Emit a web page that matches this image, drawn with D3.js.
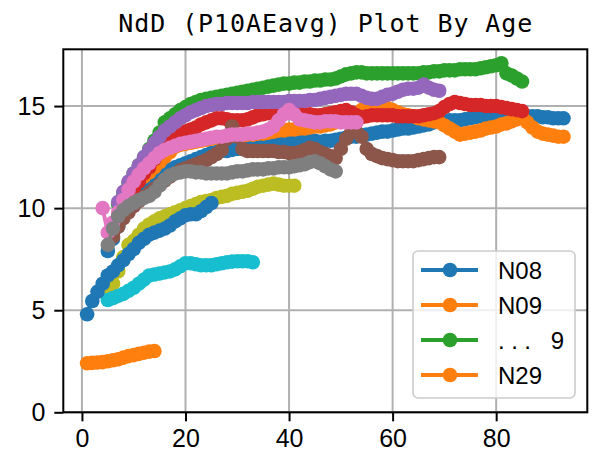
<!DOCTYPE html>
<html>
<head>
<meta charset="utf-8">
<script src="https://cdn.jsdelivr.net/npm/d3@7"></script>
<style>
  html, body { margin: 0; padding: 0; background: #fff; }
  svg { display: block; }
</style>
</head>
<body>
<svg id="chart" width="596" height="454"></svg>
<script>
// ---- data: NdD value by age, one point per year of age ----
const seriesNames = ["N08", "N09", "S10", "S11", "S12", "S13", "S14", "S15", "S16", "S17", "S18", "N29"];
const startAges   = [5, 8, 7, 6, 7, 6, 4, 5, 5, 5, 1, 1];

const n08 = [7.9, 8.5, 9.1, 9.6, 10.0, 10.3, 10.6, 10.9, 11.1, 11.3, 11.5, 11.7, 11.9, 12.0, 12.1, 12.2,
  12.3, 12.4, 12.5, 12.6, 12.7, 12.75, 12.8, 12.8, 12.85, 12.9, 12.9, 12.95, 12.95, 13.0, 13.0, 13.05,
  13.1, 13.2, 13.25, 13.3, 13.3, 13.35, 13.3, 13.3, 13.3, 13.25, 13.3, 13.3, 13.35, 13.4, 13.45, 13.5,
  13.5, 13.55, 13.6, 13.65, 13.7, 13.75, 13.75, 13.8, 13.85, 13.9, 13.9, 13.95, 14.0, 14.05, 14.1, 14.2,
  14.25, 14.25, 14.3, 14.3, 14.3, 14.35, 14.4, 14.45, 14.5, 14.5, 14.55, 14.55, 14.6, 14.6, 14.6, 14.55,
  14.55, 14.5, 14.5, 14.5, 14.45, 14.45, 14.4, 14.4, 14.4];
const n09 = [10.4, 10.8, 11.1, 11.35, 11.55, 11.75, 12.0, 12.25, 12.5, 12.75, 13.0, 13.1, 13.15, 13.2, 13.25,
  13.3, 13.35, 13.4, 13.45, 13.45, 13.5, 13.55, 13.55, 13.55, 13.6, 13.6, 13.65, 13.65, 13.7, 13.75, 13.8,
  13.8, 13.85, 13.85, 13.9, 13.9, 13.95, 14.0, 14.0, 14.05, 14.1, 14.2, 14.3,
  14.4, 14.5, 14.65, 14.8, 14.9, 14.95, 15.0, 15.0, 14.9, 14.8, 14.7, 14.6, 14.55, 14.5, 14.4, 14.35,
  14.3, 14.25, 14.2, 14.05, 13.9, 13.75, 13.6, 13.65, 13.7, 13.75, 13.8, 13.9, 13.95, 14.0, 14.1, 14.15,
  14.25, 14.35, 14.5, 14.2, 13.95, 13.75, 13.65, 13.6, 13.55, 13.5, 13.5];
const s10 = [10.2, 10.7, 11.2, 11.7, 12.1, 12.5, 12.9, 13.3, 13.7, 14.2, 14.4, 14.6, 14.8, 14.95, 15.1,
  15.2, 15.3, 15.35, 15.4, 15.45, 15.5, 15.55, 15.6, 15.65, 15.7, 15.75, 15.8, 15.85, 15.9, 15.95, 16.0,
  16.05, 16.1, 16.1, 16.15, 16.15, 16.2, 16.2, 16.25, 16.25, 16.3, 16.3, 16.35, 16.45, 16.55, 16.6, 16.65,
  16.65, 16.6, 16.6, 16.6, 16.6, 16.6, 16.6, 16.6, 16.6, 16.6, 16.6, 16.6, 16.65, 16.65, 16.7, 16.7,
  16.75, 16.75, 16.75, 16.8, 16.8, 16.8, 16.8, 16.85, 16.9, 16.95, 17.0, 17.1, 16.6, 16.5, 16.35, 16.2];
const s11 = [8.8, 9.5, 10.0, 10.5, 10.9, 11.3, 11.7, 12.0, 12.4, 12.7, 13.0, 13.2, 13.4, 13.6, 13.75,
  13.85, 13.95, 14.1, 14.2, 14.3, 14.4, 14.4, 14.35, 14.3, 14.3, 14.3, 14.35, 14.45, 14.55, 14.6, 14.65,
  14.7, 14.75, 14.8, 14.8, 14.75, 14.65, 14.6, 14.6, 14.55, 14.55, 14.6, 14.65, 14.7, 14.75, 14.8, 14.7,
  14.55, 14.45, 14.5, 14.55, 14.55, 14.55, 14.55, 14.55, 14.5, 14.5, 14.5, 14.5, 14.5, 14.55, 14.6,
  14.65, 14.75, 14.95, 15.1, 15.2, 15.15, 15.1, 15.05, 15.05, 15.05, 15.0, 15.0, 15.0, 14.95, 14.9,
  14.85, 14.8, 14.75];
const s12 = [10.3, 10.8, 11.3, 11.7, 12.1, 12.5, 12.85, 13.2, 13.5, 13.8, 14.0, 14.2, 14.4, 14.55, 14.7,
  14.8, 14.9, 15.0, 15.05, 15.1, 15.1, 15.15, 15.15, 15.15, 15.15, 15.15, 15.2, 15.2, 15.2, 15.2, 15.2,
  15.2, 15.2, 15.25, 15.25, 15.25, 15.25, 15.3, 15.3, 15.35, 15.4, 15.45, 15.5, 15.55, 15.6, 15.6, 15.6,
  15.5, 15.4, 15.35, 15.35, 15.45, 15.55, 15.6, 15.7, 15.8, 15.85, 15.85, 15.9, 16.05, 15.9, 15.8, 15.75];
const s13 = [8.6, 9.1, 9.5, 9.8, 10.1, 10.35, 10.55, 10.75, 10.95, 11.15, 11.35, 11.55, 11.7, 11.85, 11.95,
  12.05, 12.15, 12.25, 12.35, 12.5, 12.65, 12.85, 13.4, 14.0, 13.5, 12.9, 12.8, 12.8, 12.8, 12.8, 12.8,
  12.8, 12.75, 12.75, 12.7, 12.7, 12.75, 12.85, 12.95, 12.9, 12.75, 12.65, 12.55, 12.45, 12.9, 13.4, 13.7,
  13.75, 13.5, 12.9, 12.65, 12.55, 12.45, 12.4, 12.35, 12.3, 12.3, 12.3, 12.3, 12.35, 12.4, 12.45, 12.5, 12.5];
const s14 = [10.0, 8.8, 9.3, 9.8, 10.4, 10.9, 11.3, 11.65, 11.95, 12.2, 12.45, 12.7, 12.85, 12.95, 13.05,
  13.15, 13.2, 13.25, 13.3, 13.35, 13.4, 13.45, 13.5, 13.5, 13.55, 13.6, 13.6, 13.6, 13.65, 13.65, 13.7,
  13.75, 13.85, 14.0, 14.3, 14.6, 14.8, 14.6, 14.35, 14.3, 14.25, 14.2, 14.2, 14.25, 14.25, 14.25, 14.2,
  14.2, 14.2, 14.2];
const s15 = [8.2, 9.0, 9.6, 9.9, 10.1, 10.25, 10.4, 10.5, 10.6, 10.8, 11.1, 11.4, 11.6, 11.7, 11.75, 11.8,
  11.8, 11.75, 11.75, 11.7, 11.7, 11.7, 11.7, 11.7, 11.75, 11.8, 11.8, 11.85, 11.9, 11.9, 11.9, 11.95,
  11.95, 12.0, 12.0, 12.0, 12.05, 12.1, 12.15, 12.25, 12.3, 12.2, 12.05, 11.9, 11.8];
const s16 = [5.8, 6.3, 6.9, 7.6, 8.2, 8.4, 8.7, 9.0, 9.2, 9.35, 9.5, 9.6, 9.7, 9.8, 9.9, 10.0, 10.1, 10.2,
  10.3, 10.35, 10.4, 10.5, 10.55, 10.6, 10.7, 10.75, 10.8, 10.85, 10.95, 11.05, 11.1, 11.15, 11.2, 11.15,
  11.1, 11.1, 11.1];
const s17 = [5.5, 5.6, 5.7, 5.8, 5.95, 6.1, 6.3, 6.5, 6.7, 6.75, 6.8, 6.85, 6.9, 7.0, 7.15, 7.3, 7.3, 7.25,
  7.2, 7.2, 7.2, 7.25, 7.3, 7.35, 7.38, 7.4, 7.4, 7.4, 7.35];
const s18 = [4.8, 5.45, 5.9, 6.3, 6.7, 6.9, 7.2, 7.45, 7.75, 8.0, 8.3, 8.5, 8.7, 8.8, 8.9, 9.0, 9.15, 9.35,
  9.5, 9.65, 9.7, 9.7, 9.85, 10.05, 10.25];
const n29 = [2.4, 2.42, 2.44, 2.46, 2.5, 2.55, 2.6, 2.68, 2.75, 2.8, 2.86, 2.92, 2.97, 3.0];

const seriesValues = [n08, n09, s10, s11, s12, s13, s14, s15, s16, s17, s18, n29];
const colors = ["#1f77b4", "#ff7f0e", "#2ca02c", "#d62728", "#9467bd", "#8c564b",
                "#e377c2", "#7f7f7f", "#bcbd22", "#17becf", "#1f77b4", "#ff7f0e"];

const xTicks = [0, 20, 40, 60, 80];
const yTicks = [0, 5, 10, 15];
const titleText = "NdD (P10AEavg) Plot By Age";
// legend shows the first two series, an elision entry, and the last series
const legendLabels = ["N08", "N09", "... 9", "N29"];
const legendSeries = [0, 1, 2, 11];

// ---- layout ----
const plot = { left: 63.3, right: 587.3, top: 49.3, bottom: 412.3 };
const svg = d3.select("#chart");

const x = d3.scaleLinear().domain([-3.6, 97.6]).range([plot.left, plot.right]);
const y = d3.scaleLinear().domain([0, 17.78]).range([plot.bottom, plot.top]);

// grid
const grid = svg.append("g");
grid.selectAll("line.vx").data(xTicks).join("line")
  .attr("x1", d => x(d)).attr("x2", d => x(d))
  .attr("y1", plot.top).attr("y2", plot.bottom)
  .attr("stroke", "#b0b0b0").attr("stroke-width", 2);
grid.selectAll("line.hy").data(yTicks).join("line")
  .attr("y1", d => y(d)).attr("y2", d => y(d))
  .attr("x1", plot.left).attr("x2", plot.right)
  .attr("stroke", "#b0b0b0").attr("stroke-width", 2);

// series
const line = d3.line().x(d => x(d[0])).y(d => y(d[1]));
seriesValues.forEach((vals, i) => {
  const pts = vals.map((v, k) => [startAges[i] + k, v]);
  const g = svg.append("g").attr("class", "series");
  g.append("path").datum(pts)
    .attr("d", line)
    .attr("fill", "none")
    .attr("stroke", colors[i])
    .attr("stroke-width", 4)
    .attr("stroke-linejoin", "round");
  g.selectAll("circle").data(pts).join("circle")
    .attr("cx", d => x(d[0])).attr("cy", d => y(d[1]))
    .attr("r", 7.3)
    .attr("fill", colors[i]);
});

// axes
const tickFont = "'Liberation Sans', Arial, sans-serif";
const monoFont = "'DejaVu Sans Mono', 'Liberation Mono', monospace";
const xAxis = svg.append("g").attr("transform", `translate(0,${plot.bottom})`)
  .call(d3.axisBottom(x).tickValues(xTicks).tickSize(9).tickPadding(8).tickSizeOuter(0));
const yAxis = svg.append("g").attr("transform", `translate(${plot.left},0)`)
  .call(d3.axisLeft(y).tickValues(yTicks).tickSize(9).tickPadding(9).tickSizeOuter(0));
[xAxis, yAxis].forEach(a => {
  a.select(".domain").remove();
  a.selectAll(".tick line").attr("stroke", "#000").attr("stroke-width", 2);
  a.selectAll(".tick text").attr("fill", "#000")
    .style("font-family", tickFont).style("font-size", "25px");
});

// spines
svg.append("rect")
  .attr("x", plot.left).attr("y", plot.top)
  .attr("width", plot.right - plot.left).attr("height", plot.bottom - plot.top)
  .attr("fill", "none").attr("stroke", "#000").attr("stroke-width", 2);

// title
svg.append("text")
  .attr("x", (plot.left + plot.right) / 2).attr("y", 32)
  .attr("text-anchor", "middle")
  .attr("textLength", 414).attr("lengthAdjust", "spacing")
  .style("font-family", monoFont).style("font-size", "25px")
  .text(titleText);

// legend
const lg = svg.append("g").attr("transform", "translate(413,251)");
lg.append("rect")
  .attr("width", 162).attr("height", 147).attr("rx", 5)
  .attr("fill", "#fff").attr("fill-opacity", 0.8)
  .attr("stroke", "#cccccc").attr("stroke-width", 1.6);
legendLabels.forEach((lab, k) => {
  const cy = 19 + k * 35;
  const c = colors[legendSeries[k]];
  lg.append("line").attr("x1", 8).attr("x2", 65).attr("y1", cy).attr("y2", cy)
    .attr("stroke", c).attr("stroke-width", 4);
  lg.append("circle").attr("cx", 37).attr("cy", cy).attr("r", 7.3).attr("fill", c);
  const t = lg.append("text").attr("x", 85).attr("y", cy + 8.5)
    .style("font-family", tickFont).style("font-size", "24px")
    .text(lab);
  if (lab.startsWith("...")) t.attr("textLength", 66).attr("lengthAdjust", "spacing");
});
</script>
</body>
</html>
